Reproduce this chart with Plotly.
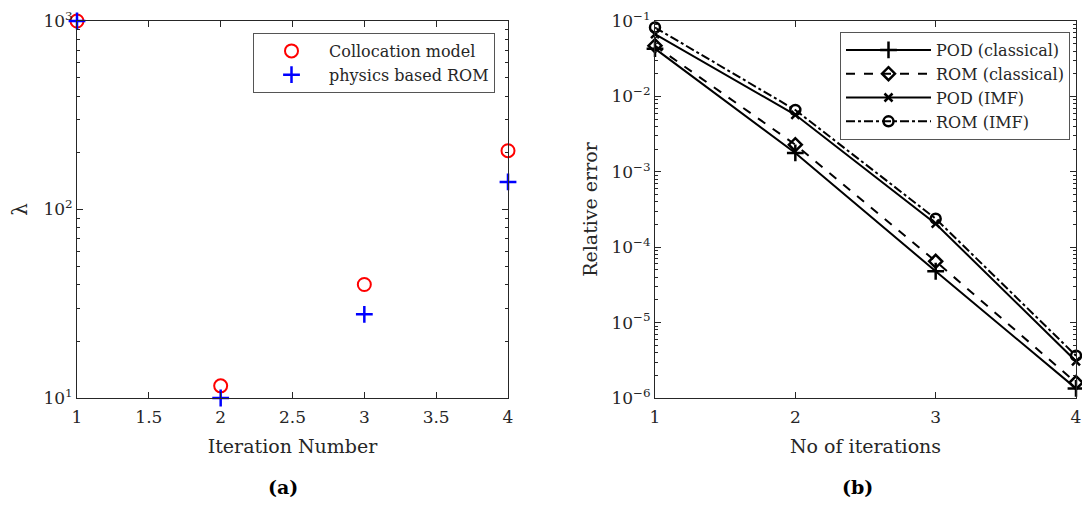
import plotly.graph_objects as go

# --- data (a) ---
iter_a = [1, 2, 3, 4]
colloc_lambda = [1000, 11.6, 40, 205]
rom_lambda = [1000, 10, 27.8, 140]

# --- data (b) ---
iter_b = [1, 2, 3, 4]
pod_classical = [0.043, 0.00178, 4.8e-5, 1.34e-6]
rom_classical = [0.047, 0.00229, 6.5e-5, 1.6e-6]
pod_imf = [0.067, 0.0057, 2.05e-4, 3.07e-6]
rom_imf = [0.082, 0.0066, 2.39e-4, 3.64e-6]

# page has an 8px body margin, so the figure is drawn 8px in from the corner
OFF = 8
W, H = 1090 - 2 * OFF, 509 - 2 * OFF
FONT = "DejaVu Serif"
INK = "#262626"
TOP, BOTTOM = 21, 398


def px_x(p):
    return (p - OFF) / W


def px_y(p):
    return 1 - (p - OFF) / H


def minor_vals(lo, hi):
    vals = []
    for e in range(lo, hi):
        for m in range(2, 10):
            vals.append(m * 10 ** e)
    return vals


def sup(e):
    s = str(e).replace("-", "\u2212")
    return f"10<sup>{s}</sup>"


fig = go.Figure()

# (a)
fig.add_trace(go.Scatter(
    x=iter_a, y=colloc_lambda, mode="markers", name="Collocation model",
    marker=dict(symbol="circle-open", size=13, color="#ff0000", line=dict(width=2)),
    cliponaxis=False, xaxis="x", yaxis="y", legend="legend"))
fig.add_trace(go.Scatter(
    x=iter_a, y=rom_lambda, mode="markers", name="physics based ROM",
    marker=dict(symbol="cross-thin", size=12, color="#0000ff", line=dict(width=2.5, color="#0000ff")),
    cliponaxis=False, xaxis="x", yaxis="y", legend="legend"))

# (b)
styles = [
    ("POD (classical)", pod_classical, "solid", "cross-thin", 12),
    ("ROM (classical)", rom_classical, "dash", "diamond-open", 10),
    ("POD (IMF)", pod_imf, "solid", "x-thin", 8),
    ("ROM (IMF)", rom_imf, "dashdot", "circle-open", 10),
]
for name, vals, dash, sym, size in styles:
    fig.add_trace(go.Scatter(
        x=iter_b, y=vals, mode="lines+markers", name=name,
        line=dict(color="black", width=2, dash=dash),
        marker=dict(symbol=sym, size=size, color="black", line=dict(width=2.5, color="black")),
        cliponaxis=False, xaxis="x2", yaxis="y2", legend="legend2"))

axis_common = dict(
    showline=True, linecolor=INK, linewidth=1, mirror="ticks", ticks="inside",
    ticklen=6, tickcolor=INK, showgrid=False, zeroline=False, automargin=False,
    ticklabeloverflow="allow",
    tickfont=dict(family=FONT, size=17, color=INK),
)
title_font = dict(family=FONT, size=19, color=INK)

fig.update_layout(
    width=W, height=H, margin=dict(l=0, r=0, t=0, b=0),
    paper_bgcolor="white", plot_bgcolor="white",
    font=dict(family=FONT, color=INK),
    xaxis=dict(axis_common, domain=[px_x(77), px_x(508)], range=[1, 4],
               tickvals=[1, 1.5, 2, 2.5, 3, 3.5, 4], anchor="y", ticklabelstandoff=4,
               title=dict(text="Iteration Number", font=title_font, standoff=13)),
    yaxis=dict(axis_common, domain=[px_y(BOTTOM), px_y(TOP)], type="log", range=[1, 3],
               tickvals=[10, 100, 1000], ticktext=[sup(1), sup(2), sup(3)], anchor="x",
               minor=dict(tickvals=minor_vals(1, 3), ticks="inside", ticklen=3, tickcolor=INK),
               title=dict(text="\u03bb", font=dict(family=FONT, size=20, color=INK), standoff=15)),
    xaxis2=dict(axis_common, domain=[px_x(655), px_x(1076)], range=[1, 4],
                tickvals=[1, 2, 3, 4], anchor="y2", ticklabelstandoff=4,
                title=dict(text="No of iterations", font=title_font, standoff=13)),
    yaxis2=dict(axis_common, domain=[px_y(BOTTOM), px_y(TOP)], type="log", range=[-6, -1],
                tickvals=[1e-6, 1e-5, 1e-4, 1e-3, 1e-2, 1e-1],
                ticktext=[sup(e) for e in range(-6, 0)], anchor="x2",
                minor=dict(tickvals=minor_vals(-6, -1), ticks="inside", ticklen=3, tickcolor=INK),
                title=dict(text="Relative error", font=title_font, standoff=8)),
    legend=dict(x=px_x(495), y=px_y(33), xanchor="right", yanchor="top",
                bgcolor="white", bordercolor="#555555", borderwidth=1, itemwidth=65,
                font=dict(family=FONT, size=16, color=INK), tracegroupgap=0),
    legend2=dict(x=px_x(1070), y=px_y(32), xanchor="right", yanchor="top",
                 bgcolor="white", bordercolor="#555555", borderwidth=1, itemwidth=85,
                 font=dict(family=FONT, size=16, color=INK), tracegroupgap=0),
    showlegend=True,
)

fig.add_annotation(text="<b>(a)</b>", x=px_x(283), y=px_y(487), xref="paper", yref="paper",
                   xanchor="center", yanchor="middle",
                   showarrow=False, font=dict(family=FONT, size=19, color="black"))
fig.add_annotation(text="<b>(b)</b>", x=px_x(857), y=px_y(487), xref="paper", yref="paper",
                   xanchor="center", yanchor="middle",
                   showarrow=False, font=dict(family=FONT, size=19, color="black"))

fig.write_html("out.html")
